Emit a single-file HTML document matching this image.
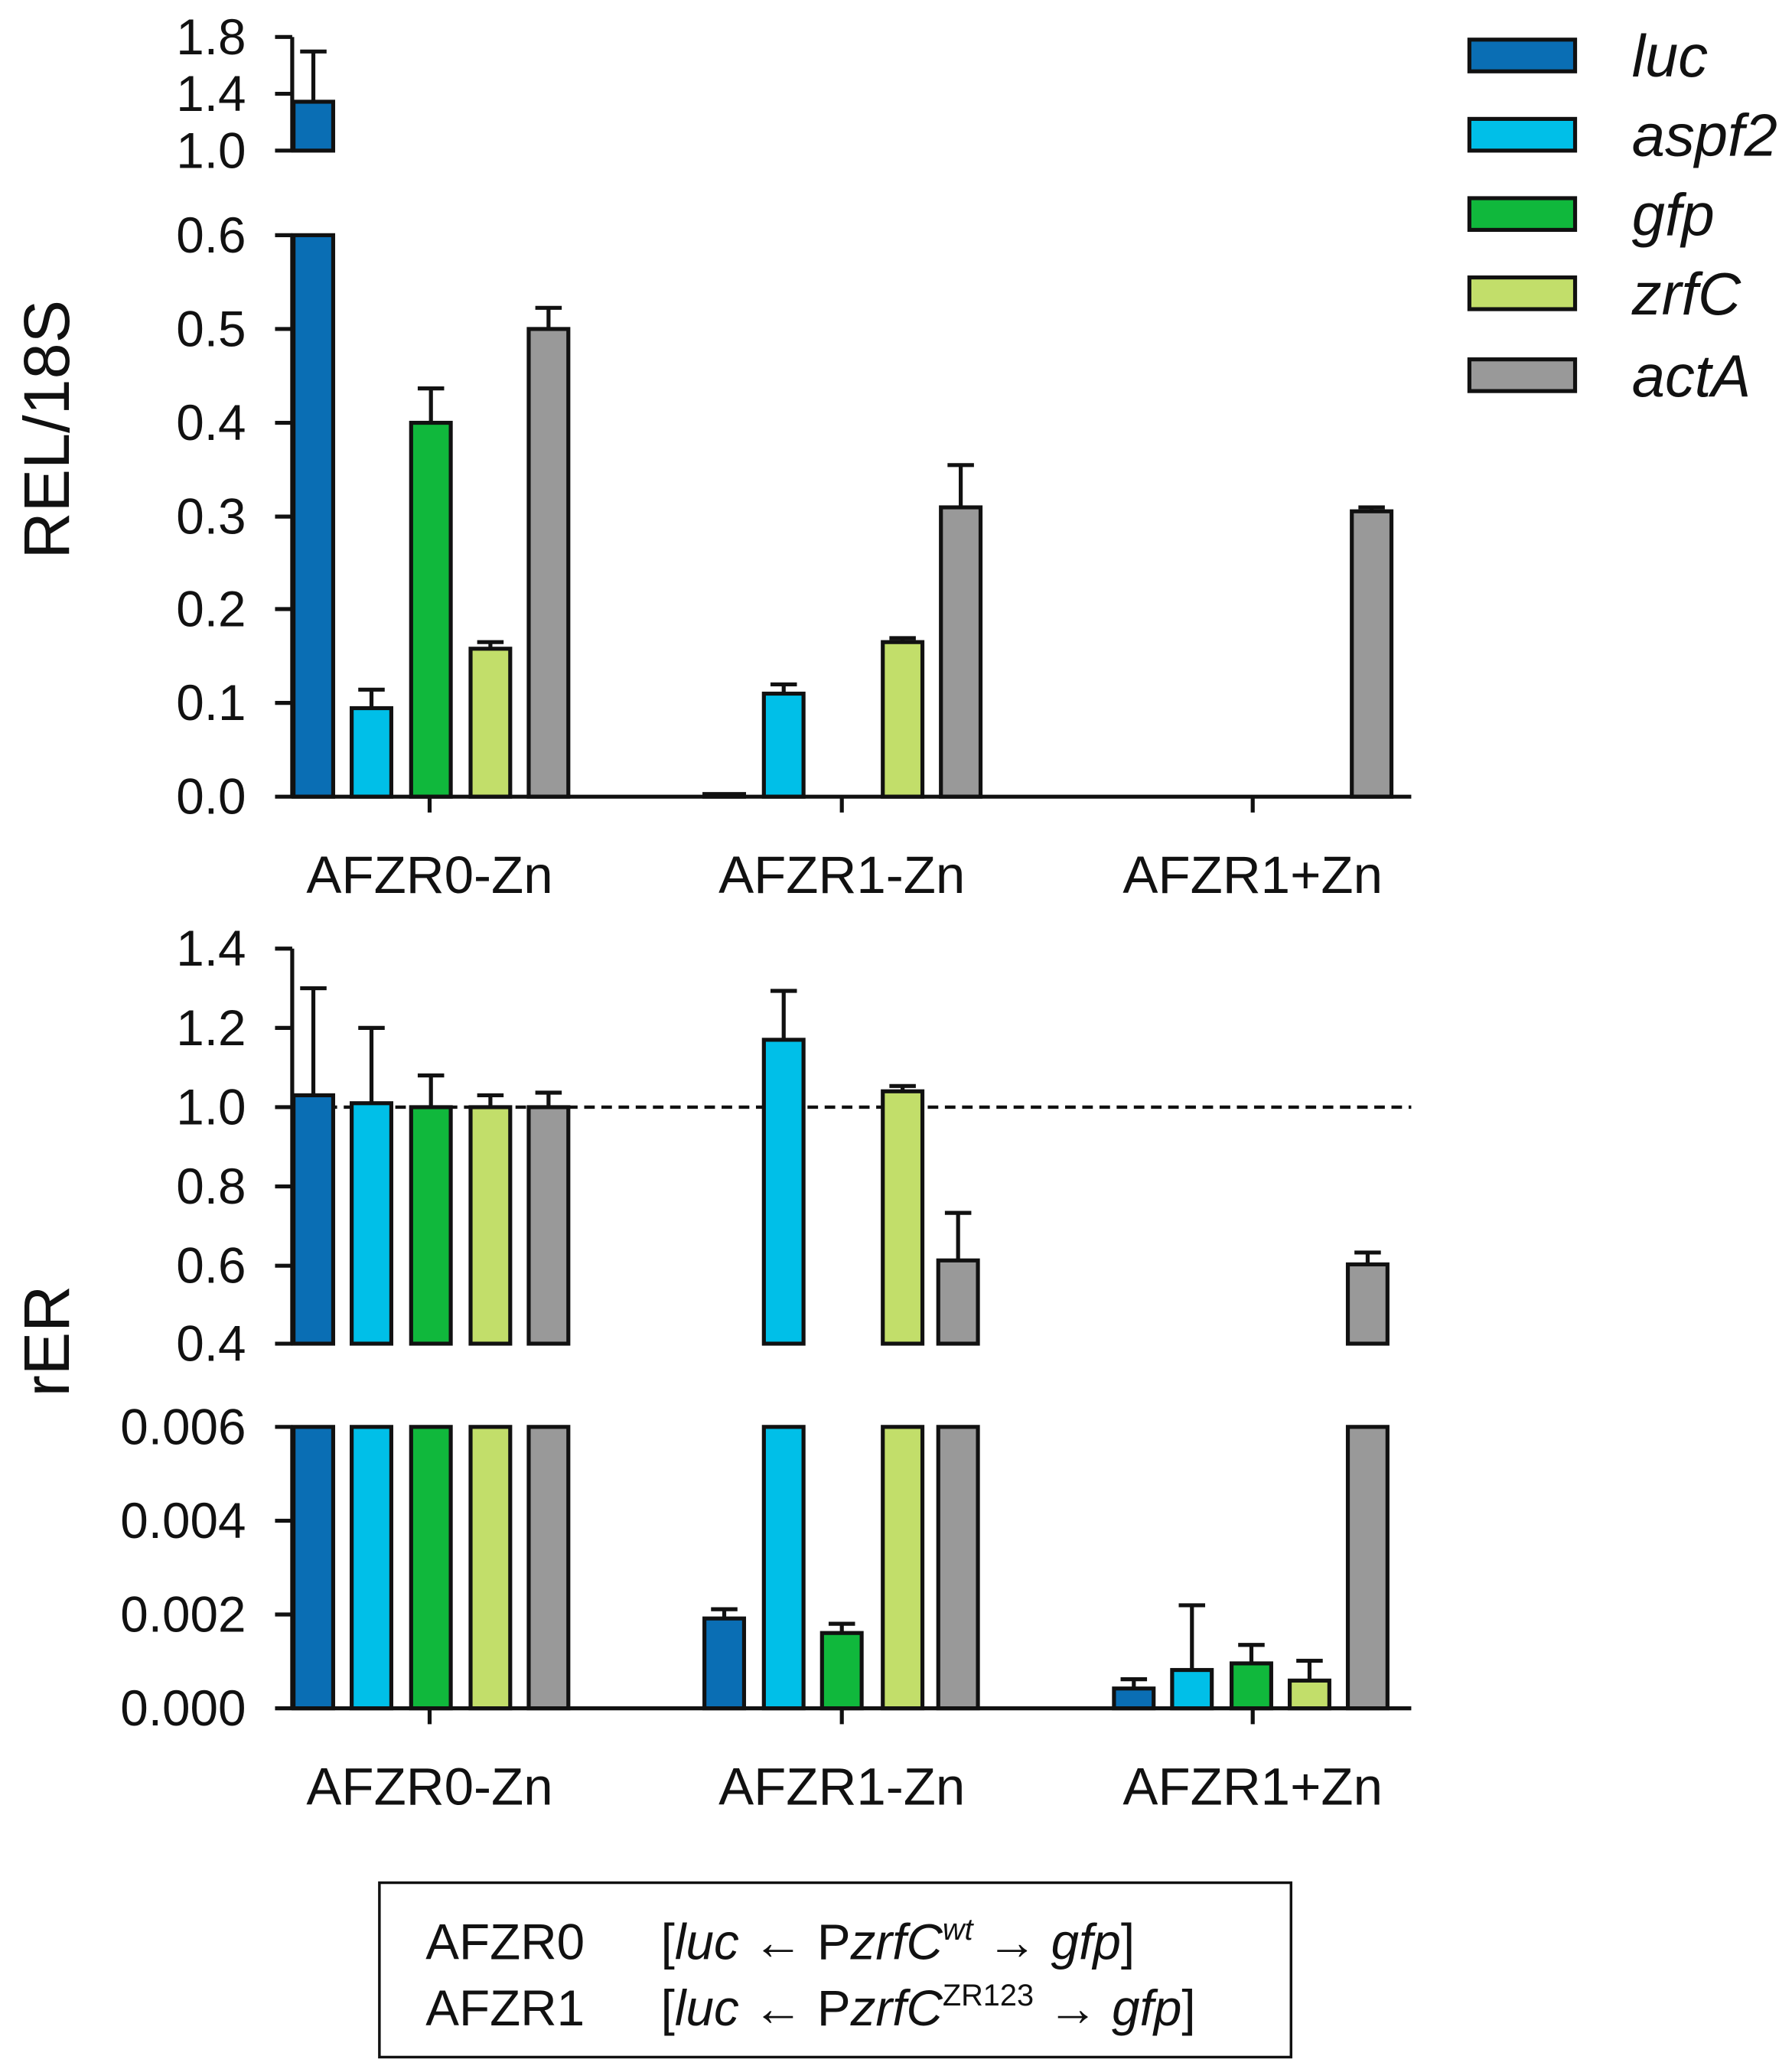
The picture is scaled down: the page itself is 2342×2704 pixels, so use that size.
<!DOCTYPE html>
<html><head><meta charset="utf-8"><style>html,body{margin:0;padding:0;background:#fff}svg{display:block}</style></head>
<body>
<svg width="2342" height="2704" viewBox="0 0 1356 1566" xmlns="http://www.w3.org/2000/svg" font-family="Liberation Sans, sans-serif">
<rect width="1356" height="1566" fill="#fff"/>
<g stroke="#111" stroke-width="3">
<rect x="222" y="77" width="30" height="37" fill="#0a6eb4"/>
<rect x="222" y="178" width="30" height="425" fill="#0a6eb4"/>
<rect x="266" y="536" width="30" height="67" fill="#00bfe8"/>
<rect x="311" y="320" width="30" height="283" fill="#10b83c"/>
<rect x="356" y="491" width="30" height="112" fill="#c2de6a"/>
<rect x="400" y="249" width="30" height="354" fill="#999"/>
<rect x="533" y="601" width="30" height="2" fill="#0a6eb4"/>
<rect x="578" y="525" width="30" height="78" fill="#00bfe8"/>
<rect x="668" y="486" width="30" height="117" fill="#c2de6a"/>
<rect x="712" y="384" width="30" height="219" fill="#999"/>
<rect x="1023" y="387" width="30" height="216" fill="#999"/>
<path d="M237 77V39M227 39H247M281 536V522M271 522H291M326 320V294M316 294H336M371 491V486M361 486H381M415 249V233M405 233H425M593 525V518M583 518H603M683 486V483M673 483H693M727 384V352M717 352H737M1038 387V384M1028 384H1048" fill="none"/>
<path d="M221 28V114M221 178V603M221 603H1068M325 603V615M637 603V615M948 603V615" fill="none"/>
<path d="M208 28H221M208 71H221M208 114H221M208 178H221M208 249H221M208 320H221M208 391H221M208 461H221M208 532H221M208 603H221" fill="none"/>
</g>
<g font-size="38" text-anchor="end" fill="#111">
<text x="186" y="41">1.8</text><text x="186" y="84">1.4</text><text x="186" y="127">1.0</text>
<text x="186" y="191">0.6</text><text x="186" y="262">0.5</text><text x="186" y="333">0.4</text><text x="186" y="404">0.3</text><text x="186" y="474">0.2</text><text x="186" y="545">0.1</text><text x="186" y="616">0.0</text>
</g>
<g font-size="40" text-anchor="middle" fill="#111">
<text x="325" y="676">AFZR0-Zn</text><text x="637" y="676">AFZR1-Zn</text><text x="948" y="676">AFZR1+Zn</text>
<text x="325" y="1366">AFZR0-Zn</text><text x="637" y="1366">AFZR1-Zn</text><text x="948" y="1366">AFZR1+Zn</text>
</g>
<text transform="translate(52,325) rotate(-90)" font-size="49" text-anchor="middle" fill="#111">REL/18S</text>
<text transform="translate(52,1015) rotate(-90)" font-size="49" text-anchor="middle" fill="#111">rER</text>

<line x1="221" y1="838" x2="1068" y2="838" stroke="#111" stroke-width="2.5" stroke-dasharray="8,5"/>
<g stroke="#111" stroke-width="3">
<rect x="222" y="829" width="30" height="188" fill="#0a6eb4"/><rect x="222" y="1080" width="30" height="213" fill="#0a6eb4"/>
<rect x="266" y="835" width="30" height="182" fill="#00bfe8"/><rect x="266" y="1080" width="30" height="213" fill="#00bfe8"/>
<rect x="311" y="838" width="30" height="179" fill="#10b83c"/><rect x="311" y="1080" width="30" height="213" fill="#10b83c"/>
<rect x="356" y="838" width="30" height="179" fill="#c2de6a"/><rect x="356" y="1080" width="30" height="213" fill="#c2de6a"/>
<rect x="400" y="838" width="30" height="179" fill="#999"/><rect x="400" y="1080" width="30" height="213" fill="#999"/>
<rect x="533" y="1225" width="30" height="68" fill="#0a6eb4"/>
<rect x="578" y="787" width="30" height="230" fill="#00bfe8"/><rect x="578" y="1080" width="30" height="213" fill="#00bfe8"/>
<rect x="622" y="1236" width="30" height="57" fill="#10b83c"/>
<rect x="668" y="826" width="30" height="191" fill="#c2de6a"/><rect x="668" y="1080" width="30" height="213" fill="#c2de6a"/>
<rect x="710" y="954" width="30" height="63" fill="#999"/><rect x="710" y="1080" width="30" height="213" fill="#999"/>
<rect x="843" y="1278" width="30" height="15" fill="#0a6eb4"/>
<rect x="887" y="1264" width="30" height="29" fill="#00bfe8"/>
<rect x="932" y="1259" width="30" height="34" fill="#10b83c"/>
<rect x="976" y="1272" width="30" height="21" fill="#c2de6a"/>
<rect x="1020" y="957" width="30" height="60" fill="#999"/><rect x="1020" y="1080" width="30" height="213" fill="#999"/>
<path d="M237 829V748M227 748H247M281 835V778M271 778H291M326 838V814M316 814H336M371 838V829M361 829H381M415 838V827M405 827H425M548 1225V1218M538 1218H558M593 787V750M583 750H603M637 1236V1229M627 1229H647M683 826V822M673 822H693M725 954V918M715 918H735M858 1278V1271M848 1271H868M902 1264V1215M892 1215H912M947 1259V1245M937 1245H957M991 1272V1257M981 1257H1001M1035 957V948M1025 948H1045" fill="none"/>
<path d="M221 718V1017M221 1080V1293M221 1293H1068M325 1293V1305M637 1293V1305M948 1293V1305" fill="none"/>
<path d="M208 718H221M208 778H221M208 838H221M208 898H221M208 958H221M208 1017H221M208 1080H221M208 1151H221M208 1222H221M208 1293H221" fill="none"/>
</g>
<g font-size="38" text-anchor="end" fill="#111">
<text x="186" y="731">1.4</text><text x="186" y="791">1.2</text><text x="186" y="851">1.0</text><text x="186" y="911">0.8</text><text x="186" y="971">0.6</text><text x="186" y="1030">0.4</text>
<text x="186" y="1093">0.006</text><text x="186" y="1164">0.004</text><text x="186" y="1235">0.002</text><text x="186" y="1306">0.000</text>
</g>

<g stroke="#111" stroke-width="3">
<rect x="1112" y="30" width="80" height="24" fill="#0a6eb4"/>
<rect x="1112" y="90" width="80" height="24" fill="#00bfe8"/>
<rect x="1112" y="150" width="80" height="24" fill="#10b83c"/>
<rect x="1112" y="210" width="80" height="24" fill="#c2de6a"/>
<rect x="1112" y="272" width="80" height="24" fill="#999"/>
</g>
<g font-size="45" font-style="italic" fill="#111">
<text x="1235" y="58">luc</text><text x="1235" y="118">aspf2</text><text x="1235" y="178">gfp</text><text x="1235" y="238">zrfC</text><text x="1235" y="300">actA</text>
</g>

<rect x="287" y="1425" width="690" height="132" fill="none" stroke="#111" stroke-width="2"/>
<g font-size="38" fill="#111">
<text x="322" y="1483">AFZR0</text>
<text x="500" y="1483">[<tspan font-style="italic">luc</tspan> <tspan font-weight="bold">←</tspan> P<tspan font-style="italic">zrfC</tspan><tspan font-style="italic" font-size="23" dy="-15">wt</tspan><tspan dy="15"> </tspan><tspan font-weight="bold">→</tspan> <tspan font-style="italic">gfp</tspan>]</text>
<text x="322" y="1533">AFZR1</text>
<text x="500" y="1533">[<tspan font-style="italic">luc</tspan> <tspan font-weight="bold">←</tspan> P<tspan font-style="italic">zrfC</tspan><tspan font-size="23" dy="-15">ZR123</tspan><tspan dy="15"> </tspan><tspan font-weight="bold">→</tspan> <tspan font-style="italic">gfp</tspan>]</text>
</g>
</svg>
</body></html>
